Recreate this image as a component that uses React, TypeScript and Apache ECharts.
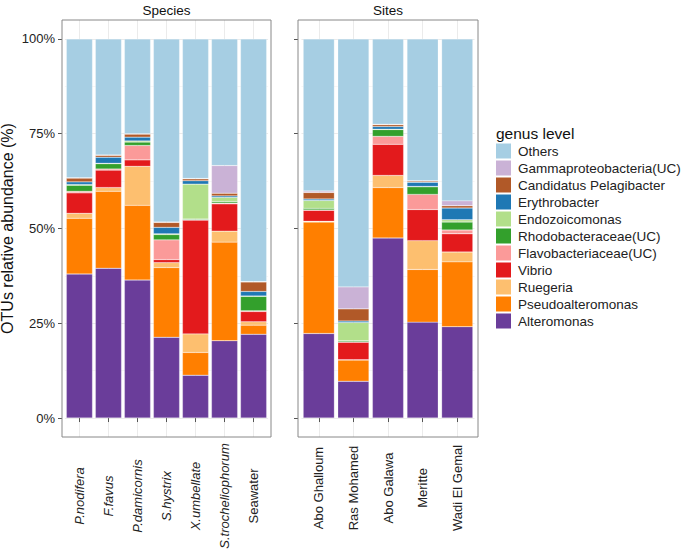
import React, { useEffect, useRef } from 'react';
import * as echarts from 'echarts';

const FONT = '"Liberation Sans", Arial, Helvetica, sans-serif';

// Genera, bottom of stack first
const genera = [
  'Alteromonas',
  'Pseudoalteromonas',
  'Ruegeria',
  'Vibrio',
  'Flavobacteriaceae(UC)',
  'Rhodobacteraceae(UC)',
  'Endozoicomonas',
  'Erythrobacter',
  'Candidatus Pelagibacter',
  'Gammaproteobacteria(UC)',
  'Others',
];
const generaColors = [
  '#6A3D9A', '#FF7F00', '#FDBF6F', '#E31A1C', '#FB9A99', '#33A02C',
  '#B2DF8A', '#1F78B4', '#B15928', '#CAB2D6', '#A6CEE3',
];

const speciesCats = ['P.nodifera', 'F.favus', 'P.damicornis', 'S.hystrix', 'X.umbellate', 'S.trocheliophorum', 'Seawater'];
const speciesItalic = [true, true, true, true, true, true, false];
const siteCats = ['Abo Ghalloum', 'Ras Mohamed', 'Abo Galawa', 'Meritte', 'Wadi El Gemal'];

// Species panel (%), one array per genus
const spAlteromonas = [38.0, 39.5, 36.4, 21.3, 11.3, 20.4, 22.1];
const spPseudoalteromonas = [14.7, 20.3, 19.7, 18.4, 6.0, 26.0, 2.4];
const spRuegeria = [1.3, 1.0, 10.3, 1.3, 4.9, 2.9, 0.9];
const spVibrio = [5.4, 4.6, 1.7, 0.8, 30.0, 7.2, 2.7];
const spFlavo = [0.4, 0.3, 3.8, 5.2, 0.1, 0.2, 0.2];
const spRhodo = [1.6, 1.4, 0.9, 1.4, 0.2, 0.4, 3.8];
const spEndozoicomonas = [0.2, 0.1, 0.3, 0.2, 9.2, 1.1, 0.1];
const spErythrobacter = [0.7, 1.6, 1.0, 1.7, 0.9, 0.4, 1.2];
const spCandidatus = [1.0, 0.5, 0.8, 1.3, 0.5, 0.7, 2.5];
const spGamma = [0.1, 0.1, 0.1, 0.1, 0.1, 7.3, 0.1];
const spOthers = [36.6, 30.6, 25.0, 48.3, 36.8, 33.4, 64.0];

// Sites panel (%), one array per genus
const stAlteromonas = [22.3, 9.7, 47.5, 25.3, 24.1];
const stPseudoalteromonas = [29.4, 5.6, 13.3, 13.9, 17.1];
const stRuegeria = [0.2, 0.1, 3.2, 7.6, 2.6];
const stVibrio = [2.9, 4.6, 8.2, 8.2, 4.8];
const stFlavo = [0.1, 0.1, 2.1, 4.0, 1.0];
const stRhodo = [0.4, 0.3, 1.8, 2.0, 2.1];
const stEndozoicomonas = [2.1, 4.8, 0.1, 0.1, 0.6];
const stErythrobacter = [0.4, 0.4, 0.7, 1.1, 3.1];
const stCandidatus = [1.7, 3.2, 0.5, 0.3, 0.6];
const stGamma = [0.4, 5.8, 0.1, 0.1, 1.3];
const stOthers = [40.1, 65.4, 22.5, 37.4, 42.7];

const speciesData = [spAlteromonas, spPseudoalteromonas, spRuegeria, spVibrio, spFlavo, spRhodo, spEndozoicomonas, spErythrobacter, spCandidatus, spGamma, spOthers];
const siteData = [stAlteromonas, stPseudoalteromonas, stRuegeria, stVibrio, stFlavo, stRhodo, stEndozoicomonas, stErythrobacter, stCandidatus, stGamma, stOthers];

const majorTicks = [0, 25, 50, 75, 100];
const minorTicks = [12.5, 37.5, 62.5, 87.5];

export default function App() {
  const ref = useRef<HTMLDivElement>(null);

  useEffect(() => {
    document.body.style.margin = '0';
    const chart = echarts.init(ref.current!, null, { renderer: 'svg' });

    // panel geometry
    const P1 = { x: 62, y: 20, w: 209, h: 417 };
    const P2 = { x: 298, y: 20, w: 180, h: 417 };
    const band1 = P1.w / (speciesCats.length + 0.2);
    const band2 = P2.w / (siteCats.length + 0.2);
    const g1left = P1.x + 0.1 * band1;
    const g2left = P2.x + 0.1 * band2;

    const series: any[] = [];
    genera.forEach((g, k) => {
      [speciesData, siteData].forEach((d, p) => {
        series.push({
          type: 'bar',
          name: g,
          stack: p ? 'R' : 'L',
          xAxisIndex: p,
          yAxisIndex: p * 2,
          data: d[k],
          barWidth: '90%',
          itemStyle: {
            color: generaColors[k],
            borderColor: 'rgba(255,255,255,0.6)',
            borderWidth: 0.4,
          },
          emphasis: { disabled: true },
        });
      });
    });

    const tickStyle = { color: '#555', width: 1 };
    const labelText = { fontSize: 13, color: '#222', fontFamily: FONT };

    const majorY = (gi: number, off: number, showLabel: boolean) => ({
      type: 'value',
      gridIndex: gi,
      min: -5,
      max: 105,
      offset: off,
      axisLine: { show: false },
      axisTick: { show: true, length: 4, lineStyle: tickStyle, customValues: majorTicks },
      axisLabel: {
        show: showLabel,
        customValues: majorTicks,
        formatter: (v: number) => v + '%',
        margin: 7,
        ...labelText,
      },
      splitLine: { show: true, lineStyle: { color: '#EBEBEB', width: 1 } },
      ...(showLabel
        ? {
            name: 'OTUs relative abundance (%)',
            nameLocation: 'middle',
            nameGap: 47,
            nameTextStyle: { fontSize: 16, color: '#111', fontFamily: FONT },
          }
        : {}),
    });
    const minorY = (gi: number) => ({
      type: 'value',
      gridIndex: gi,
      min: -5,
      max: 105,
      axisLine: { show: false },
      axisTick: { show: false, customValues: minorTicks },
      axisLabel: { show: false },
      splitLine: { show: true, lineStyle: { color: '#F0F0F0', width: 0.6 } },
    });

    const xAx = (gi: number, cats: any[], margin: number) => ({
      type: 'category',
      gridIndex: gi,
      data: cats,
      boundaryGap: true,
      axisLine: { show: false },
      axisTick: { show: true, alignWithLabel: true, length: 4, lineStyle: tickStyle },
      axisLabel: {
        rotate: 90,
        align: 'center',
        verticalAlign: 'middle',
        margin,
        interval: 0,
        ...labelText,
      },
      splitLine: { show: true, alignWithLabel: true, lineStyle: { color: '#EBEBEB', width: 1 } },
    });

    const legendOrder = [...genera].reverse();
    const catText = (italic: boolean) => ({
      fontStyle: italic ? 'italic' : 'normal',
      align: 'center',
      verticalAlign: 'middle',
      ...labelText,
    });

    chart.setOption({
      animation: false,
      grid: [
        { left: g1left, top: P1.y, width: band1 * speciesCats.length, height: P1.h, containLabel: false, outerBoundsMode: 'none' },
        { left: g2left, top: P2.y, width: band2 * siteCats.length, height: P2.h, containLabel: false, outerBoundsMode: 'none' },
      ],
      xAxis: [
        xAx(0, speciesCats.map((c, i) => ({ value: c, textStyle: catText(speciesItalic[i]) })), 59),
        xAx(1, siteCats.map((c) => ({ value: c, textStyle: catText(false) })), 51),
      ],
      yAxis: [
        majorY(0, g1left - P1.x, true),
        minorY(0),
        majorY(1, g2left - P2.x, false),
        minorY(1),
      ],
      legend: {
        data: legendOrder,
        orient: 'vertical',
        left: 496,
        top: 143.5,
        itemWidth: 15,
        itemHeight: 15,
        itemGap: 2,
        padding: 0,
        icon: 'rect',
        selectedMode: false,
        itemStyle: { borderWidth: 0 },
        textStyle: { fontSize: 13.5, color: '#222', fontFamily: FONT, padding: [0, 0, 0, 2] },
      },
      graphic: [
        {
          type: 'rect',
          shape: { x: P1.x, y: P1.y, width: P1.w, height: P1.h },
          style: { fill: 'none', stroke: '#888', lineWidth: 1 },
          z: 100,
          silent: true,
        },
        {
          type: 'rect',
          shape: { x: P2.x, y: P2.y, width: P2.w, height: P2.h },
          style: { fill: 'none', stroke: '#888', lineWidth: 1 },
          z: 100,
          silent: true,
        },
        {
          type: 'text',
          x: P1.x + P1.w / 2,
          y: 10,
          style: { text: 'Species', align: 'center', verticalAlign: 'middle', fontSize: 13.5, fill: '#111', fontFamily: FONT },
        },
        {
          type: 'text',
          x: P2.x + P2.w / 2,
          y: 10,
          style: { text: 'Sites', align: 'center', verticalAlign: 'middle', fontSize: 13.5, fill: '#111', fontFamily: FONT },
        },
        {
          type: 'text',
          x: 496,
          y: 133,
          style: { text: 'genus level', align: 'left', verticalAlign: 'middle', fontSize: 15.5, fill: '#111', fontFamily: FONT },
        },
      ],
      series,
    });

    return () => chart.dispose();
  }, []);

  return <div ref={ref} style={{ position: 'absolute', left: 0, top: 0, width: 685, height: 554 }} />;
}
